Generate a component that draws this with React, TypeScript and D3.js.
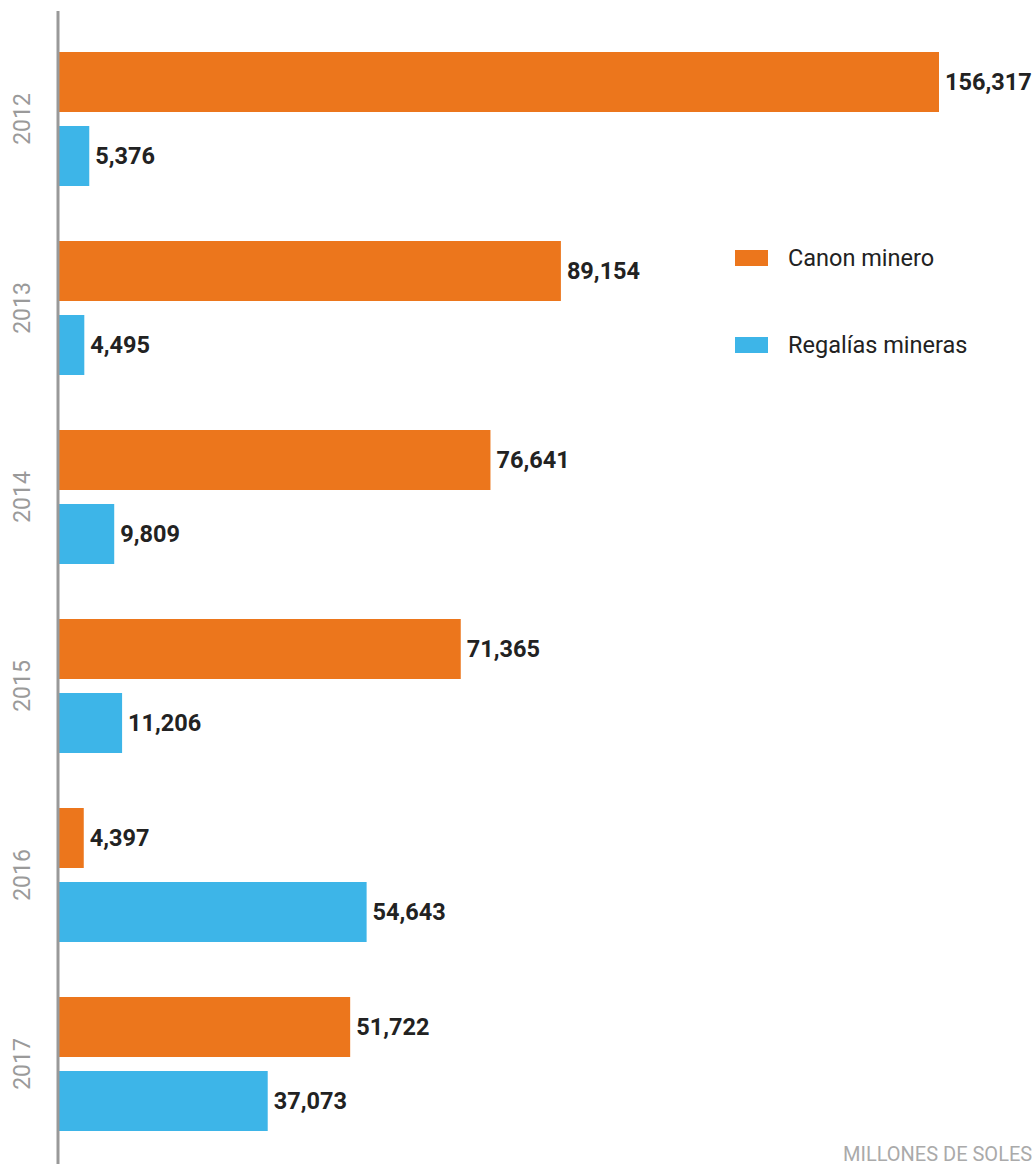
import React from "react";
import * as d3 from "d3";

const years = ["2012", "2013", "2014", "2015", "2016", "2017"];
const canon = [156317, 89154, 76641, 71365, 4397, 51722];
const regalias = [5376, 4495, 9809, 11206, 54643, 37073];
const seriesKeys = ["canon", "regalias"];
const seriesNames = ["Canon minero", "Regalías mineras"];
const colors = ["#EC761C", "#3DB5E8"];

const W = 1035;
const H = 1164;

export default function App() {
  const x = d3.scaleLinear().domain([0, 156317]).range([59, 939]);
  const yGroup = d3.scaleBand<string>().domain(years).range([52, 52 + 189 * years.length]).padding(0);
  const ySub = d3.scaleBand<string>().domain(seriesKeys).range([0, 134]).paddingInner(14 / 74).paddingOuter(0);
  const fmt = d3.format(",");
  const data = [canon, regalias];

  return (
    <div style={{ position: "absolute", left: 0, top: 0 }}>
      <svg width={W} height={H} style={{ display: "block", fontFamily: "Roboto, sans-serif" }}>
        <rect x={0} y={0} width={W} height={H} fill="#fff" />
        {years.map((yr, i) => {
          const g0 = yGroup(yr)!;
          return (
            <g key={yr}>
              <text
                transform={`translate(22, ${g0 + 67}) rotate(-90)`}
                textAnchor="middle"
                dominantBaseline="central"
                fontSize={23}
                fill="#9a9a9a"
              >
                {yr}
              </text>
              {seriesKeys.map((k, s) => {
                const v = data[s][i];
                const yy = g0 + ySub(k)!;
                const bw = ySub.bandwidth();
                return (
                  <g key={k}>
                    <rect x={x(0)} y={yy} width={x(v) - x(0)} height={bw} fill={colors[s]} />
                    <text
                      x={x(v) + 6}
                      y={yy + bw / 2}
                      dominantBaseline="central"
                      fontSize={23.5}
                      fontWeight={700}
                      fill="#222"
                    >
                      {fmt(v)}
                    </text>
                  </g>
                );
              })}
            </g>
          );
        })}
        <line x1={58} x2={58} y1={11} y2={H} stroke="#999" strokeWidth={3} />
        {seriesNames.map((n, s) => {
          const ly = 258 + s * 87;
          return (
            <g key={n}>
              <rect x={735} y={ly - 8} width={33} height={16} fill={colors[s]} />
              <text
                x={788}
                y={ly}
                dominantBaseline="central"
                fontSize={23.5}
                fill="#222"
              >
                {n}
              </text>
            </g>
          );
        })}
        <text x={843} y={1161} fontSize={20} fill="#aaa">
          MILLONES DE SOLES
        </text>
      </svg>
    </div>
  );
}
